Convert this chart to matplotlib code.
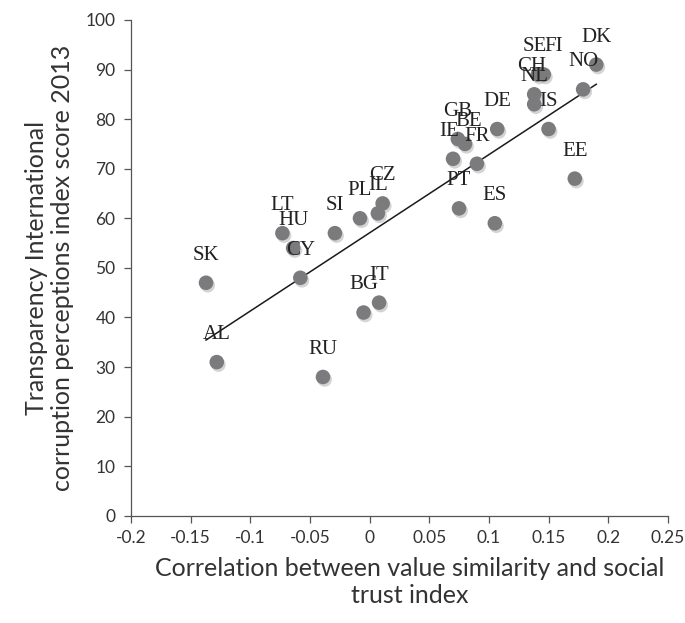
import numpy as np
import matplotlib
matplotlib.use("Agg")
import matplotlib.pyplot as plt
import matplotlib.patheffects as pe

# country codes and values
countries = ["AL", "SK", "CY", "HU", "LT", "SI", "PL", "IL", "CZ", "RU", "BG", "IT",
             "PT", "ES", "IE", "FR", "GB", "BE", "DE", "IS", "NL", "CH", "SE", "FI",
             "NO", "EE", "DK"]
value_trust_corr = [-0.128, -0.137, -0.058, -0.064, -0.073, -0.029, -0.008, 0.007, 0.011,
                    -0.039, -0.005, 0.008, 0.075, 0.105, 0.070, 0.090, 0.074, 0.080,
                    0.107, 0.150, 0.138, 0.138, 0.141, 0.146, 0.179, 0.172, 0.190]
cpi_2013 = [31, 47, 48, 54, 57, 57, 60, 61, 63, 28, 41, 43, 62, 59, 72, 71, 76, 75,
            78, 78, 83, 85, 89, 89, 86, 68, 91]

x_ticks = [-0.2, -0.15, -0.1, -0.05, 0, 0.05, 0.1, 0.15, 0.2, 0.25]
x_tick_labels = ["-0.2", "-0.15", "-0.1", "-0.05", "0", "0.05", "0.1", "0.15", "0.2", "0.25"]
y_ticks = [0, 10, 20, 30, 40, 50, 60, 70, 80, 90, 100]

# small label nudges (points) where labels sit off-centre in the original
label_nudge = {"FI": (7, 0), "SE": (-2, 0), "BE": (3, -4), "IE": (-3, 0), "CH": (-2, 0)}

x = np.array(value_trust_corr)
y = np.array(cpi_2013)

fig = plt.figure(figsize=(6.85, 6.23), dpi=100)
ax = fig.add_axes([0.191, 0.172, 0.784, 0.796])

shadow = [pe.SimplePatchShadow(offset=(1.2, -1.8), shadow_rgbFace="#b8b8b8", alpha=0.6),
          pe.Normal()]
ax.scatter(x, y, s=110, color="#7b7b7d", edgecolors="none", zorder=3, path_effects=shadow)

# linear trendline over the data range
slope, intercept = np.polyfit(x, y, 1)
xs = np.array([x.min(), x.max()])
ax.plot(xs, slope * xs + intercept, color="#1a1a1a", lw=1.1, zorder=2)

for name, xi, yi in zip(countries, x, y):
    dx, dy = label_nudge.get(name, (0, 0))
    ax.annotate(name, (xi, yi), xytext=(dx, 13 + dy), textcoords="offset points",
                ha="center", va="bottom", fontsize=15, family="Liberation Serif",
                color="#222222", zorder=4)

ax.set_xlim(-0.2, 0.25)
ax.set_ylim(0, 100)
ax.set_xticks(x_ticks)
ax.set_xticklabels(x_tick_labels)
ax.set_yticks(y_ticks)
for lbl in ax.get_xticklabels() + ax.get_yticklabels():
    lbl.set_family("Lato")
    lbl.set_fontsize(12.5)
    lbl.set_color("#333333")
ax.tick_params(axis="x", direction="out", length=5, width=0.9, color="#555555", pad=5)
ax.tick_params(axis="y", direction="out", length=5, width=0.9, color="#555555", pad=6)

for side in ["top", "right"]:
    ax.spines[side].set_visible(False)
for side in ["left", "bottom"]:
    ax.spines[side].set_color("#555555")
    ax.spines[side].set_linewidth(0.9)

ax.set_xlabel("Correlation between value similarity and social\ntrust index",
              family="Lato", fontsize=18, color="#333333", linespacing=1.25)
ax.xaxis.set_label_coords(0.52, -0.082)
ax.set_ylabel("Transparency International\ncorruption perceptions index score 2013",
              family="Lato", fontsize=18, color="#333333", labelpad=8, linespacing=1.2)

fig.savefig("out.png", dpi=100)
